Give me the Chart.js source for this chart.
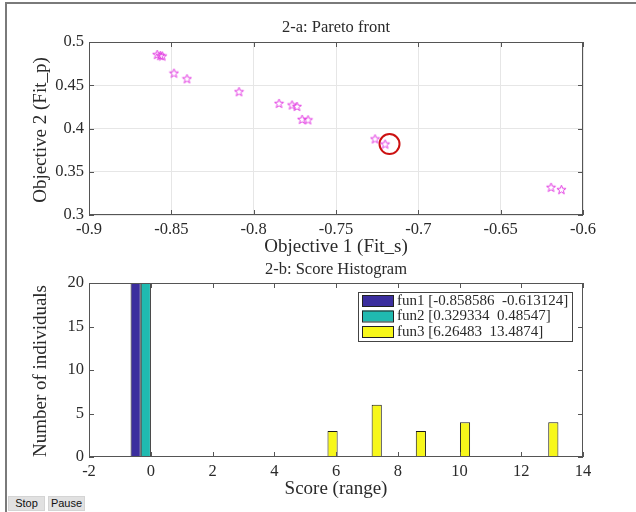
<!DOCTYPE html>
<html><head><meta charset="utf-8">
<script src="https://cdn.jsdelivr.net/npm/chart.js@4.4.1/dist/chart.umd.min.js"></script>
<style>
html,body{margin:0;padding:0;background:#fff;width:636px;height:512px;overflow:hidden;}
canvas{position:absolute;left:0;top:0;}
#frame{position:absolute;left:5px;top:2px;width:640px;height:520px;border-left:2px solid #7a7a7a;border-top:2px solid #7a7a7a;}
.btn{position:absolute;top:496px;height:15px;width:37px;background:#e1e1e1;border:1px solid #d4d4d4;font:11px 'Liberation Sans',sans-serif;color:#111;text-align:center;line-height:13px;box-sizing:border-box;}
</style></head><body>
<div id="frame"></div>
<canvas id="c1" width="636" height="512"></canvas>
<canvas id="c2" width="636" height="512"></canvas>
<div class="btn" style="left:8px">Stop</div>
<div class="btn" style="left:48px">Pause</div>
<script>
// ---- data ----
const objective1 = [-0.8586, -0.8567, -0.8555, -0.8484, -0.8405, -0.8089, -0.7846, -0.7767, -0.7737, -0.7706, -0.7670, -0.7263, -0.7202, -0.6194, -0.6131];
const objective2 = [0.4855, 0.4843, 0.4838, 0.4640, 0.4575, 0.4425, 0.4290, 0.4272, 0.4255, 0.4105, 0.4100, 0.3880, 0.3820, 0.3320, 0.3293];
const highlightX = [-0.7175];
const highlightY = [0.3820];
const paretoXTicks = [-0.9, -0.85, -0.8, -0.75, -0.7, -0.65, -0.6];
const paretoXTickLabels = ['-0.9', '-0.85', '-0.8', '-0.75', '-0.7', '-0.65', '-0.6'];
const paretoYTicks = [0.3, 0.35, 0.4, 0.45, 0.5];
const paretoYTickLabels = ['0.3', '0.35', '0.4', '0.45', '0.5'];

const binCenters = [-0.16, 1.27, 2.70, 4.13, 5.56, 6.99, 8.42, 9.85, 11.28, 12.71];
const fun1Counts = [20, 0, 0, 0, 0, 0, 0, 0, 0, 0];
const fun2Counts = [20, 0, 0, 0, 0, 0, 0, 0, 0, 0];
const fun3Counts = [0, 0, 0, 0, 3, 6, 3, 4, 0, 4];
const seriesNames = ['fun1', 'fun2', 'fun3'];
const seriesRanges = ['[-0.858586  -0.613124]', '[0.329334  0.48547]', '[6.26483  13.4874]'];
const histXTicks = [-2, 0, 2, 4, 6, 8, 10, 12, 14];
const histYTicks = [0, 5, 10, 15, 20];

const SERIF = "'Liberation Serif', 'Times New Roman', serif";
const TXT = '#2a2a2a';

// pentagram marker
function makeStar(color) {
  const c = document.createElement('canvas');
  c.width = 11; c.height = 11;
  const g = c.getContext('2d');
  g.strokeStyle = color; g.lineWidth = 1;
  g.beginPath();
  for (let i = 0; i < 10; i++) {
    const r = i % 2 === 0 ? 4.8 : 2.0;
    const a = -Math.PI / 2 + i * Math.PI / 5;
    const px = 5.5 + r * Math.cos(a), py = 5.8 + r * Math.sin(a);
    if (i === 0) g.moveTo(px, py); else g.lineTo(px, py);
  }
  g.closePath(); g.stroke();
  return c;
}
const star = makeStar('#e23ee2');

function makeDecor(texts, legend) {
  return {
    id: 'decor',
    afterDraw(chart) {
      const ctx = chart.ctx, a = chart.chartArea;
      const xs = chart.scales.x, ys = chart.scales.y;
      ctx.save();
      ctx.strokeStyle = '#555'; ctx.lineWidth = 1;
      ctx.strokeRect(Math.round(a.left) + 0.5, Math.round(a.top) + 0.5, Math.round(a.right - a.left) - 1, Math.round(a.bottom - a.top) - 1);
      ctx.beginPath();
      xs.ticks.forEach(t => {
        const p = Math.round(xs.getPixelForValue(t.value)) + 0.5;
        ctx.moveTo(p, a.bottom); ctx.lineTo(p, a.bottom - 5);
        ctx.moveTo(p, a.top); ctx.lineTo(p, a.top + 5);
      });
      ys.ticks.forEach(t => {
        const p = Math.round(ys.getPixelForValue(t.value)) + 0.5;
        ctx.moveTo(a.left, p); ctx.lineTo(a.left + 5, p);
        ctx.moveTo(a.right, p); ctx.lineTo(a.right - 5, p);
      });
      ctx.stroke();
      texts.forEach(t => {
        ctx.save();
        ctx.font = t.font; ctx.fillStyle = TXT;
        ctx.textAlign = 'center'; ctx.textBaseline = 'middle';
        ctx.translate(t.x, t.y);
        if (t.rot) ctx.rotate(t.rot);
        ctx.fillText(t.text, 0, 0);
        ctx.restore();
      });
      if (legend) {
        const L = legend;
        ctx.fillStyle = '#fff';
        ctx.fillRect(L.x, L.y, L.w, L.h);
        ctx.strokeStyle = '#444';
        ctx.strokeRect(L.x + 0.5, L.y + 0.5, L.w, L.h);
        chart.data.datasets.forEach((ds, i) => {
          const cy = L.y + 8 + i * 15.5;
          ctx.fillStyle = ds.backgroundColor;
          ctx.fillRect(L.x + 4, cy - 5, 31, 11);
          ctx.strokeStyle = '#222';
          ctx.strokeRect(L.x + 4.5, cy - 4.5, 31, 11);
          ctx.fillStyle = TXT;
          ctx.font = '15px ' + SERIF;
          ctx.textAlign = 'left'; ctx.textBaseline = 'middle';
          ctx.fillText(seriesNames[i] + ' ' + seriesRanges[i], L.x + 39, cy + 1);
        });
      }
      ctx.restore();
    }
  };
}

const tickFont = { family: SERIF, size: 16.5 };

// ---- chart 1: Pareto front ----
new Chart(document.getElementById('c1'), {
  type: 'scatter',
  data: {
    datasets: [
      {
        data: objective1.map((v, i) => ({ x: v, y: objective2[i] })),
        pointStyle: star, pointRadius: 5, showLine: false
      },
      {
        data: highlightX.map((v, i) => ({ x: v, y: highlightY[i] })),
        pointStyle: 'circle', pointRadius: 10, borderColor: '#cc1111', borderWidth: 2,
        backgroundColor: 'rgba(0,0,0,0)', showLine: false
      }
    ]
  },
  options: {
    responsive: false, animation: false, devicePixelRatio: 1,
    layout: { padding: { left: 0, top: 42, right: 53, bottom: 0 } },
    plugins: { legend: { display: false }, tooltip: { enabled: false } },
    scales: {
      x: {
        type: 'linear', min: -0.9, max: -0.6,
        afterBuildTicks: s => { s.ticks = paretoXTicks.map(v => ({ value: v })); },
        afterFit: s => { s.height = 512 - 215; },
        ticks: { callback: (v, i) => paretoXTickLabels[i], font: tickFont, color: TXT, padding: 5, autoSkip: false, maxRotation: 0 },
        grid: { color: '#e6e6e6', drawTicks: false },
        border: { display: false }
      },
      y: {
        type: 'linear', min: 0.3, max: 0.5,
        afterBuildTicks: s => { s.ticks = paretoYTicks.map(v => ({ value: v })); },
        afterFit: s => { s.width = 89; },
        ticks: { callback: (v, i) => paretoYTickLabels[i], font: tickFont, color: TXT, padding: 5, autoSkip: false },
        grid: { color: '#e6e6e6', drawTicks: false },
        border: { display: false }
      }
    }
  },
  plugins: [makeDecor([
    { text: '2-a: Pareto front', x: 336, y: 28, font: '16.5px ' + SERIF },
    { text: 'Objective 1 (Fit_s)', x: 336, y: 247, font: '19px ' + SERIF },
    { text: 'Objective 2 (Fit_p)', x: 41, y: 130, font: '19px ' + SERIF, rot: -Math.PI / 2 }
  ], null)]
});

// ---- chart 2: Score histogram ----
const histColors = ['#3b2e9e', '#20bab0', '#f7f71a'];
const histCounts = [fun1Counts, fun2Counts, fun3Counts];
new Chart(document.getElementById('c2'), {
  type: 'bar',
  data: {
    datasets: histCounts.map((counts, k) => ({
      label: seriesNames[k],
      data: binCenters.map((c, i) => ({ x: c, y: counts[i] })),
      backgroundColor: histColors[k], borderColor: '#1a1a1a', borderWidth: 1, borderSkipped: false,
      categoryPercentage: 0.69, barPercentage: 1.0
    }))
  },
  options: {
    responsive: false, animation: false, devicePixelRatio: 1,
    layout: { padding: { left: 0, top: 283, right: 53, bottom: 0 } },
    plugins: { legend: { display: false }, tooltip: { enabled: false } },
    scales: {
      x: {
        type: 'linear', min: -2, max: 14, offset: false,
        afterBuildTicks: s => { s.ticks = histXTicks.map(v => ({ value: v })); },
        afterFit: s => { s.height = 512 - 457; },
        ticks: { callback: (v, i) => String(histXTicks[i]), font: tickFont, color: TXT, padding: 5, autoSkip: false, maxRotation: 0 },
        grid: { display: false, drawTicks: false },
        border: { display: false }
      },
      y: {
        type: 'linear', min: 0, max: 20,
        afterBuildTicks: s => { s.ticks = histYTicks.map(v => ({ value: v })); },
        afterFit: s => { s.width = 89; },
        ticks: { callback: (v, i) => String(histYTicks[i]), font: tickFont, color: TXT, padding: 5, autoSkip: false },
        grid: { display: false, drawTicks: false },
        border: { display: false }
      }
    }
  },
  plugins: [makeDecor([
    { text: '2-b: Score Histogram', x: 336, y: 270, font: '16.5px ' + SERIF },
    { text: 'Score (range)', x: 336, y: 489, font: '19px ' + SERIF },
    { text: 'Number of individuals', x: 41, y: 371, font: '19px ' + SERIF, rot: -Math.PI / 2 }
  ], { x: 358, y: 292, w: 214, h: 49 })]
});
</script>
</body></html>
